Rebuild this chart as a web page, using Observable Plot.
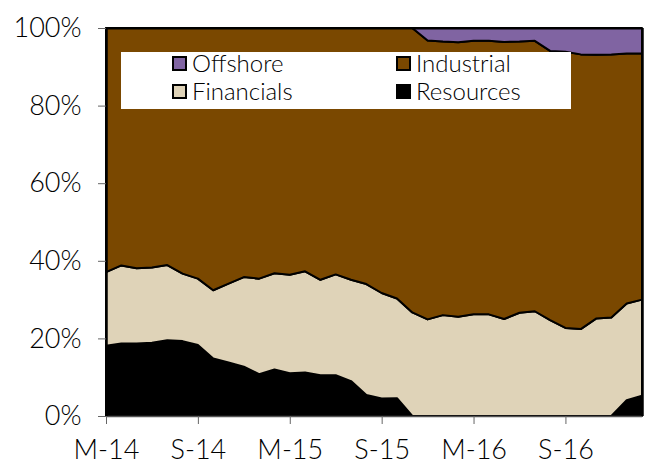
<!DOCTYPE html>
<html><head><meta charset="utf-8">
<script src="https://cdn.jsdelivr.net/npm/d3@7"></script>
<script src="https://cdn.jsdelivr.net/npm/@observablehq/plot@0.6"></script>
<style>
body{margin:0;background:#fff;font-family:Lato,sans-serif}
#wrap{position:relative;width:648px;height:465px}
#legend{position:absolute;left:121px;top:52px;width:450px;height:57px;background:#fff;font-size:24px;font-weight:300;color:#000}
.item{position:absolute;display:flex;align-items:center;height:28px;line-height:28px}
.sw{width:11px;height:11px;border:2px solid #000;margin-right:5px;flex:none}
svg text{font-weight:300}
</style></head>
<body><div id="wrap"><div id="legend"></div></div>
<script>
const seriesNames = ["Resources", "Financials", "Industrial", "Offshore"];
const seriesColors = ["#000000", "#dfd3b8", "#7a4800", "#8064a2"];
const tickPos = [0, 6, 12, 18, 24, 30];
const tickLabels = ["M-14", "S-14", "M-15", "S-15", "M-16", "S-16"];
const yTicks = [0, 20, 40, 60, 80, 100];

const resources = [18.1,18.7,18.7,18.9,19.5,19.3,18.3,14.8,13.8,12.7,10.8,12.0,11.0,11.2,10.5,10.5,9.0,5.4,
  4.5,4.6,0,0,0,0,0,0,0,0,0,0,0,0,0,0,4.1,5.2];
const financials = [19.0,20.1,19.4,19.4,19.4,17.4,17.1,17.6,20.3,23.1,24.6,24.8,25.4,26.1,24.6,26.0,26.1,28.6,
  27.2,25.7,26.7,24.9,26.0,25.6,26.2,26.2,25.0,26.6,27.0,24.7,22.7,22.4,25.1,25.4,24.9,24.8];
const industrial = [62.9,61.2,61.9,61.7,61.1,63.3,64.6,67.6,65.9,64.2,64.6,63.2,63.6,62.7,64.9,63.5,64.9,66.0,
  68.3,69.7,73.3,71.9,70.5,70.7,70.5,70.5,71.4,69.9,69.7,69.4,71.2,70.8,68.0,67.8,64.4,63.4];
const offshore = [0,0,0,0,0,0,0,0,0,0,0,0,0,0,0,0,0,0,
  0,0,0,3.2,3.5,3.7,3.3,3.3,3.6,3.5,3.3,5.9,6.1,6.8,6.9,6.8,6.6,6.6];

const seriesValues = [resources, financials, industrial, offshore];
const data = [];
seriesNames.forEach((s, k) => seriesValues[k].forEach((v, i) => data.push({i, series: s, value: v})));

const chart = Plot.plot({
  width: 648, height: 465,
  marginLeft: 106, marginRight: 6, marginTop: 28, marginBottom: 49,
  style: {fontFamily: "Lato, sans-serif", fontSize: "27px", color: "#000", background: "#fff", overflow: "visible"},
  x: {domain: [0, 35], axis: null},
  y: {domain: [0, 100], axis: null},
  color: {domain: seriesNames, range: seriesColors},
  marks: [
    Plot.areaY(data, {x: "i", y: "value", z: "series", fill: "series", stroke: "#000", strokeWidth: 2, order: seriesNames, strokeLinejoin: "round"}),
    Plot.ruleY([0], {stroke: "#555", strokeWidth: 1.5}),
    Plot.ruleY([100], {stroke: "#000", strokeWidth: 2}),
    Plot.ruleX([0, 35], {stroke: "#000", strokeWidth: 2.5}),
    Plot.axisY({ticks: yTicks, tickFormat: d => d + "%", tickSize: 8, tickPadding: 17, fontSize: 27, stroke: "#666", fill: "#000", label: null}),
    Plot.axisX({ticks: tickPos, tickFormat: d => tickLabels[tickPos.indexOf(d)], tickSize: 8, tickPadding: 15, fontSize: 27, stroke: "#666", fill: "#000", label: null})
  ]
});
document.getElementById("wrap").prepend(chart);

const legendItems = [
  {name: "Offshore", left: 51, top: -3},
  {name: "Industrial", left: 275, top: -3},
  {name: "Financials", left: 51, top: 25},
  {name: "Resources", left: 275, top: 25}
];
const legend = document.getElementById("legend");
legendItems.forEach(it => {
  const d = document.createElement("div");
  d.className = "item";
  d.style.left = it.left + "px";
  d.style.top = it.top + "px";
  const sw = document.createElement("span");
  sw.className = "sw";
  sw.style.background = seriesColors[seriesNames.indexOf(it.name)];
  d.appendChild(sw);
  d.appendChild(document.createTextNode(it.name));
  legend.appendChild(d);
});
</script>
</body></html>
